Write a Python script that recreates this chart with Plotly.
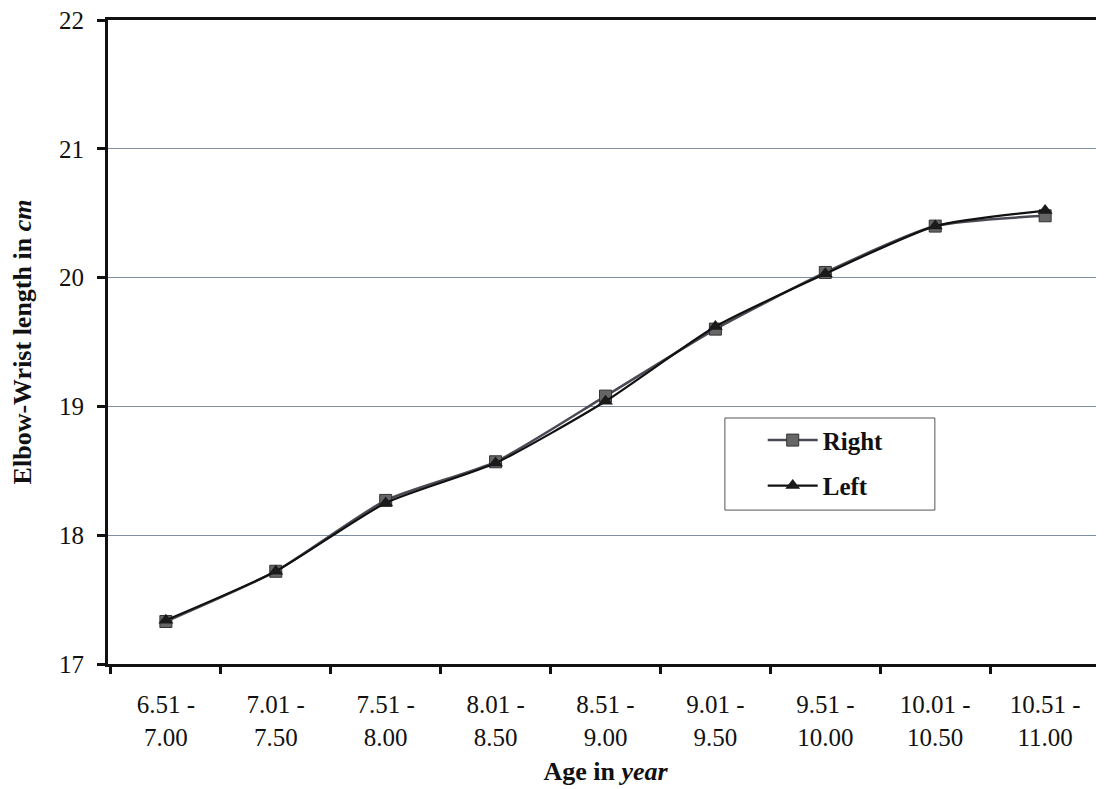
import plotly.graph_objects as go

categories = ["6.51 -<br>7.00", "7.01 -<br>7.50", "7.51 -<br>8.00", "8.01 -<br>8.50",
              "8.51 -<br>9.00", "9.01 -<br>9.50", "9.51 -<br>10.00", "10.01 -<br>10.50",
              "10.51 -<br>11.00"]
right_vals = [17.33, 17.72, 18.27, 18.57, 19.08, 19.60, 20.04, 20.40, 20.48]
left_vals = [17.34, 17.72, 18.25, 18.56, 19.04, 19.62, 20.03, 20.40, 20.52]

FONT = "Liberation Serif"

fig = go.Figure()
fig.add_trace(go.Scatter(
    x=categories, y=right_vals, name="Right", mode="lines+markers",
    legendgroup="r",
    line=dict(color="#4a4a55", width=2.5, shape="spline", smoothing=0.6),
    marker=dict(symbol="square", size=12, color="#666666", line=dict(color="#333333", width=1)),
))
fig.add_trace(go.Scatter(
    x=categories, y=left_vals, name="Left", mode="lines+markers",
    legendgroup="l",
    line=dict(color="#111111", width=2.2, shape="spline", smoothing=0.6),
    marker=dict(symbol="triangle-up", size=13, color="#1a1a1a"),
))

fig.update_layout(
    width=1096, height=781,
    margin=dict(l=100, r=1, t=12, b=125),
    paper_bgcolor="white", plot_bgcolor="white",
    font=dict(family=FONT, color="#111111", size=25),
    showlegend=True,
    legend=dict(
        x=0.658, y=0.383, xanchor="left", yanchor="top",
        bgcolor="rgba(0,0,0,0)", borderwidth=0,
        font=dict(family=FONT, size=25, color="#111111", weight="bold"),
        itemwidth=50, traceorder="grouped", tracegroupgap=10,
    ),
    xaxis=dict(
        type="category", automargin=False,
        showline=True, linecolor="#111111", linewidth=3, mirror=True,
        ticks="outside", ticklen=7, tickwidth=3, tickcolor="#111111", tickson="boundaries",
        ticklabelstandoff=16,
        showgrid=False, tickfont=dict(family=FONT, size=25, color="#111111"),
        title=dict(text="<b>Age in <i>year</i></b>", font=dict(family=FONT, size=26), standoff=13),
    ),
    yaxis=dict(
        range=[17, 22], dtick=1, automargin=False,
        showline=True, linecolor="#111111", linewidth=3,
        ticks="outside", ticklen=8, tickwidth=3, tickcolor="#111111",
        ticklabelstandoff=8, ticklabeloverflow="allow",
        showgrid=True, gridcolor="#7f8fa3", gridwidth=1,
        tickfont=dict(family=FONT, size=25, color="#111111"),
        title=dict(text="<b>Elbow-Wrist length in <i>cm</i></b>", font=dict(family=FONT, size=26), standoff=22),
    ),
    shapes=[
        dict(type="line", xref="paper", yref="paper", x0=1, x1=1, y0=0, y1=1,
             line=dict(color="#222222", width=1.5)),
        dict(type="rect", xref="paper", yref="paper", x0=0.620, x1=0.831, y0=0.239, y1=0.382,
             line=dict(color="#555555", width=1), fillcolor="white", layer="above"),
    ],
)

fig.write_html("out.html")
